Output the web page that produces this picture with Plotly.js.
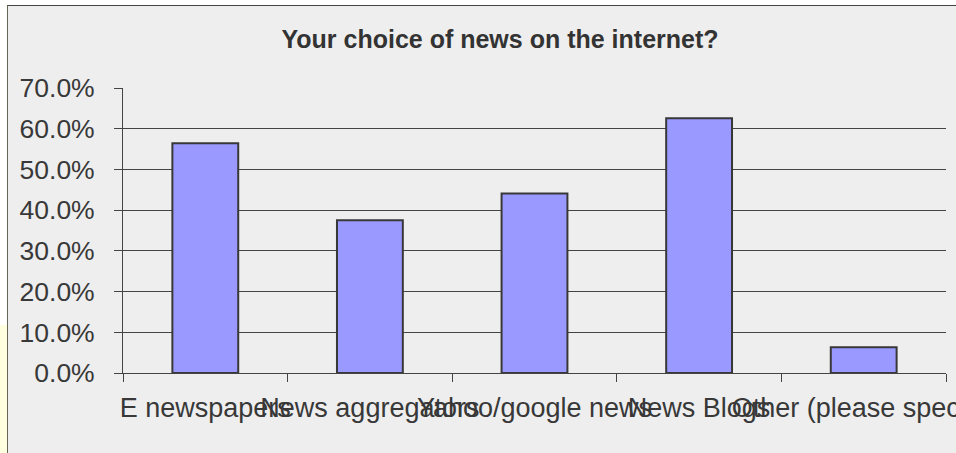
<!DOCTYPE html>
<html>
<head>
<meta charset="utf-8">
<script src="https://cdn.plot.ly/plotly-3.0.1.min.js"></script>
<style>
  html, body { margin: 0; padding: 0; background: #ffffff; width: 956px; height: 453px; overflow: hidden; }
  #strip { position: absolute; left: 0; top: 325px; width: 7px; height: 128px; background: #FFFFE0; }
  #chart { position: absolute; left: 7px; top: 5px; width: 948px; height: 447px;
           border-left: 1px solid #666655; border-top: 1px solid #444444; overflow: hidden; }
</style>
</head>
<body>
<div id="strip"></div>
<div id="chart"></div>
<script>
const categories = ["E newspapers", "News aggregators", "Yahoo/google news", "News Blogs", "Other (please specify)"];
const shares = [0.564, 0.375, 0.441, 0.626, 0.063];
const yTicks = [0, 0.1, 0.2, 0.3, 0.4, 0.5, 0.6, 0.7];
const chartTitle = "Your choice of news on the internet?";

const font = "Liberation Sans, Arial, sans-serif";

const data = [{
  type: "bar",
  x: categories,
  y: shares,
  marker: { color: "#9999FF", line: { color: "#383838", width: 2 } },
  hoverinfo: "none"
}];

const layout = {
  width: 948,
  height: 447,
  margin: { l: 115, r: 9.5, t: 81.7, b: 80.3, pad: 0 },
  paper_bgcolor: "#EEEEEE",
  plot_bgcolor: "#EEEEEE",
  bargap: 0.6,
  showlegend: false,
  font: { family: font, color: "#333333" },
  title: {
    text: "<b>" + chartTitle + "</b>",
    font: { family: font, size: 25, color: "#333333" },
    x: 0.519, xref: "container", xanchor: "center",
    y: 0.925, yref: "container", yanchor: "middle"
  },
  xaxis: {
    type: "category",
    tickangle: 0,
    tickson: "boundaries",
    ticks: "outside",
    ticklen: 8,
    tickcolor: "#444444",
    tickwidth: 1,
    showline: true,
    linecolor: "#444444",
    linewidth: 1,
    showgrid: false,
    zeroline: false,
    tickfont: { family: font, size: 27, color: "#383838" },
    ticklabelstandoff: 11,
    automargin: false,
    fixedrange: true
  },
  yaxis: {
    range: [0, 0.7],
    tickvals: yTicks,
    tickformat: ".1%",
    ticks: "outside",
    ticklen: 8,
    tickcolor: "#444444",
    tickwidth: 1,
    showline: true,
    linecolor: "#444444",
    linewidth: 1,
    showgrid: true,
    gridcolor: "#444444",
    gridwidth: 1,
    zeroline: false,
    tickfont: { family: font, size: 26.5, color: "#383838" },
    ticklabelstandoff: 14,
    automargin: false,
    fixedrange: true
  }
};

Plotly.newPlot("chart", data, layout, { displayModeBar: false, staticPlot: true });
</script>
</body>
</html>
